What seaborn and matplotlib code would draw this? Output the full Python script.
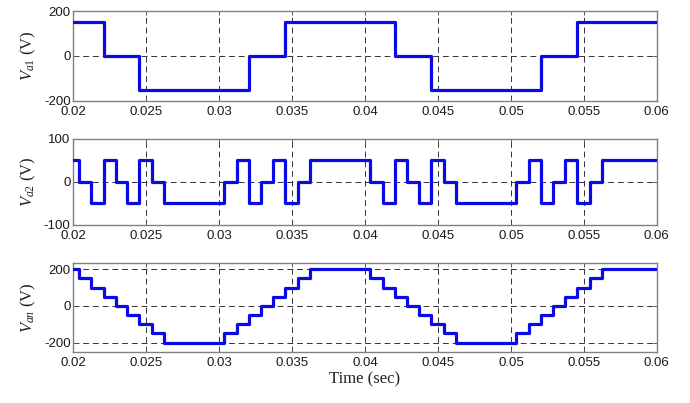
import matplotlib
matplotlib.use("Agg")
import matplotlib.pyplot as plt
import seaborn as sns
import pandas as pd

# ---- data ----
x_ticks = [0.02, 0.025, 0.03, 0.035, 0.04, 0.045, 0.05, 0.055, 0.06]
x_tick_labels = ["0.02", "0.025", "0.03", "0.035", "0.04", "0.045", "0.05", "0.055", "0.06"]
t_end = 0.06

# Va1: segment start times and levels
va1_t = [0.02, 0.02207, 0.02453, 0.03207, 0.03453, 0.04207, 0.04453, 0.05207, 0.05453]
va1_v = [150, 0, -150, 0, 150, 0, -150, 0, 150]

# Va2: segment start times and levels
va2_t = [0.02, 0.02036, 0.02121, 0.02207, 0.0229, 0.0237, 0.02453, 0.02539, 0.02624,
         0.03036, 0.03121, 0.03207, 0.0329, 0.0337, 0.03453, 0.03539, 0.03624,
         0.04036, 0.04121, 0.04207, 0.0429, 0.0437, 0.04453, 0.04539, 0.04624,
         0.05036, 0.05121, 0.05207, 0.0529, 0.0537, 0.05453, 0.05539, 0.05624]
va2_v = [50, 0, -50, 50, 0, -50, 50, 0, -50,
         0, 50, -50, 0, 50, -50, 0, 50,
         0, -50, 50, 0, -50, 50, 0, -50,
         0, 50, -50, 0, 50, -50, 0, 50]

# Van: segment start times and levels
van_t = [0.02, 0.02036, 0.02121, 0.02207, 0.0229, 0.0237, 0.02453, 0.02539, 0.02624,
         0.03036, 0.03121, 0.03207, 0.0329, 0.0337, 0.03453, 0.03539, 0.03624,
         0.04036, 0.04121, 0.04207, 0.0429, 0.0437, 0.04453, 0.04539, 0.04624,
         0.05036, 0.05121, 0.05207, 0.0529, 0.0537, 0.05453, 0.05539, 0.05624]
van_v = [200, 150, 100, 50, 0, -50, -100, -150, -200,
         -150, -100, -50, 0, 50, 100, 150, 200,
         150, 100, 50, 0, -50, -100, -150, -200,
         -150, -100, -50, 0, 50, 100, 150, 200]

panels = [
    dict(t=va1_t, v=va1_v, label=r"$V_{a1}$ (V)", ylim=(-200, 200), yticks=[-200, 0, 200]),
    dict(t=va2_t, v=va2_v, label=r"$V_{a2}$ (V)", ylim=(-100, 100), yticks=[-100, 0, 100]),
    dict(t=van_t, v=van_v, label=r"$V_{an}$ (V)", ylim=(-251, 234), yticks=[-200, 0, 200]),
]

# ---- style ----
sns.set_style("white")
plt.rcParams["font.family"] = ["Liberation Sans", "DejaVu Sans"]
plt.rcParams["mathtext.fontset"] = "custom"
plt.rcParams["mathtext.rm"] = "Liberation Serif"
plt.rcParams["mathtext.it"] = "Liberation Serif:italic"

fig = plt.figure(figsize=(6.9, 4.03), dpi=100)
left, width = 0.1063, 0.8455
rects = [(0.7494, 0.2233), (0.4417, 0.2134), (0.1266, 0.2208)]

frame_col = "#808080"
for (y0, h), p in zip(rects, panels):
    ax = fig.add_axes([left, y0, width, h])
    df = pd.DataFrame({"t": list(p["t"]) + [t_end], "v": list(p["v"]) + [p["v"][-1]]})
    sns.lineplot(data=df, x="t", y="v", ax=ax, estimator=None, sort=False,
                 drawstyle="steps-post", color="#0a0ae6", linewidth=2.3, zorder=3)
    ax.set_xlim(0.02, 0.06)
    ax.set_ylim(*p["ylim"])
    ax.set_xticks(x_ticks)
    ax.set_xticklabels(x_tick_labels)
    ax.set_yticks(p["yticks"])
    ax.set_yticklabels([str(v) for v in p["yticks"]])
    ax.grid(True, color="#333333", linestyle=(0, (6, 4)), linewidth=0.7)
    for s in ax.spines.values():
        s.set_color(frame_col)
        s.set_linewidth(1.0)
        s.set_visible(True)
    ax.tick_params(direction="in", length=3, width=0.7, color="#555555",
                   labelsize=9.5, top=True, right=True,
                   bottom=True, left=True, labelcolor="#1a1a1a")
    ax.tick_params(axis="x", pad=3.5)
    ax.tick_params(axis="y", pad=2)
    ax.set_ylabel(p["label"], fontsize=12, family="Liberation Serif", labelpad=4,
                  color="#222222")
    ax.set_xlabel("")

ax.set_xlabel("Time (sec)", fontsize=12, family="Liberation Serif", labelpad=2,
              color="#222222")

fig.savefig("out.png", dpi=100)
